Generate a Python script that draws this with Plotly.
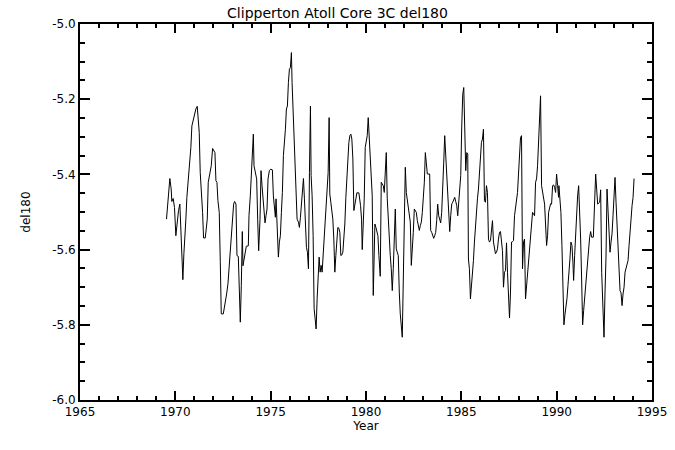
import plotly.graph_objects as go

years = [
1969.537,1969.589,1969.642,1969.712,1969.782,1969.817,1969.887,1969.957,1970.027,1970.097,
1970.167,1970.237,1970.290,1970.343,1970.395,1970.448,1970.500,1970.553,1970.605,1970.658,
1970.710,1970.763,1970.815,1970.868,1970.973,1971.078,1971.148,1971.201,1971.253,1971.306,
1971.376,1971.429,1971.481,1971.569,1971.621,1971.674,1971.726,1971.831,1971.884,1971.954,
1972.077,1972.129,1972.182,1972.234,1972.304,1972.357,1972.409,1972.515,1972.567,1972.637,
1972.690,1972.760,1972.830,1972.882,1972.952,1973.058,1973.110,1973.180,1973.233,1973.303,
1973.355,1973.408,1973.460,1973.513,1973.548,1973.618,1973.723,1973.828,1973.863,1973.933,
1973.986,1974.038,1974.091,1974.126,1974.196,1974.266,1974.319,1974.371,
1974.442,1974.494,1974.547,1974.599,1974.652,1974.704,1974.757,1974.809,1974.862,1974.932,
1975.002,1975.090,1975.142,1975.195,1975.247,1975.282,1975.335,1975.405,1975.457,1975.510,
1975.563,1975.615,1975.668,1975.720,1975.773,1975.825,1975.878,1975.930,1975.983,1976.035,
1976.088,1976.123,1976.176,1976.228,1976.281,1976.333,1976.386,1976.456,1976.508,1976.561,
1976.614,1976.666,1976.719,1976.771,1976.824,1976.876,1976.929,1976.981,1977.034,1977.086,
1977.121,1977.174,1977.227,1977.279,1977.332,1977.384,1977.437,1977.489,1977.542,1977.594,
1977.647,1977.699,1977.752,1977.804,1977.857,1977.910,1977.962,1978.015,1978.067,1978.102,
1978.155,1978.207,1978.260,1978.312,1978.365,1978.418,1978.470,1978.523,1978.575,1978.628,
1978.680,1978.733,1978.785,1978.838,1978.890,1978.943,1978.996,1979.048,1979.101,1979.153,
1979.206,1979.258,1979.311,1979.364,1979.416,1979.469,1979.521,1979.626,
1979.714,1979.767,1979.802,1979.854,1979.907,1979.959,1980.012,1980.064,1980.117,1980.169,
1980.222,1980.275,1980.327,1980.380,1980.415,1980.467,1980.520,1980.572,1980.625,1980.677,
1980.747,1980.800,1980.853,1980.905,1980.958,1981.010,1981.063,1981.115,1981.168,1981.220,
1981.273,1981.325,1981.378,1981.431,1981.483,1981.536,1981.588,1981.641,1981.693,1981.746,
1981.798,1981.903,1981.956,1982.008,1982.061,1982.114,1982.166,1982.219,1982.271,1982.324,
1982.376,1982.429,1982.481,1982.534,1982.587,1982.639,1982.692,1982.744,1982.797,1982.849,
1982.902,1982.954,1983.007,1983.060,1983.112,1983.165,1983.217,1983.340,1983.392,1983.445,
1983.497,1983.550,1983.603,1983.655,1983.708,1983.760,1983.813,1983.865,1983.918,1983.970,
1984.023,1984.075,1984.128,1984.180,1984.233,1984.286,1984.338,1984.391,1984.443,1984.496,
1984.548,1984.601,1984.653,1984.706,1984.759,1984.811,1984.864,
1984.969,1985.022,1985.074,1985.127,1985.179,1985.232,1985.284,1985.337,1985.372,1985.424,
1985.477,1985.530,1985.582,1985.635,1985.687,1985.740,1985.792,1985.845,1985.897,1985.950,
1986.002,1986.055,1986.107,1986.160,1986.213,1986.265,1986.318,1986.370,1986.423,1986.475,
1986.528,1986.580,1986.633,1986.686,1986.738,1986.791,1986.843,1986.896,1986.948,1987.001,
1987.053,1987.106,1987.158,1987.211,1987.263,1987.316,1987.369,1987.421,1987.474,1987.526,
1987.579,1987.631,1987.684,1987.736,1987.789,1987.842,1987.894,1987.947,1987.999,1988.052,
1988.104,1988.157,1988.209,1988.262,1988.314,1988.367,1988.420,1988.472,1988.525,1988.577,
1988.630,1988.682,1988.735,1988.787,1988.840,1988.893,1988.945,1988.998,1989.050,1989.103,
1989.155,1989.208,1989.260,1989.313,1989.366,1989.471,1989.523,1989.576,1989.628,1989.681,
1989.733,1989.786,1989.839,1989.891,1989.944,1989.996,1990.049,1990.101,
1990.118,1990.171,1990.223,1990.276,1990.329,1990.381,1990.434,1990.486,1990.539,1990.591,
1990.644,1990.696,1990.749,1990.802,1990.854,1990.889,1990.942,1990.994,1991.047,1991.099,
1991.152,1991.204,1991.257,1991.310,1991.362,1991.415,1991.467,1991.520,1991.572,1991.625,
1991.677,1991.730,1991.782,1991.835,1991.923,1992.045,1992.098,1992.150,1992.255,1992.308,
1992.361,1992.413,1992.483,1992.536,1992.588,1992.641,1992.693,1992.746,1992.798,1992.851,
1992.903,1992.956,1993.009,1993.061,1993.114,1993.166,1993.219,1993.271,1993.324,1993.376,
1993.429,1993.481,1993.534,1993.587,1993.639,1993.692,1993.744,1993.797,1993.849,1993.902,
1993.954,1994.007,1994.059,
]

del18o = [
-5.519,-5.492,-5.448,-5.411,-5.439,-5.472,-5.464,-5.488,-5.563,-5.523,
-5.496,-5.479,-5.563,-5.620,-5.680,-5.611,-5.572,-5.519,-5.461,-5.430,
-5.399,-5.359,-5.328,-5.271,-5.244,-5.226,-5.219,-5.253,-5.288,-5.395,
-5.448,-5.501,-5.569,-5.569,-5.545,-5.519,-5.421,-5.395,-5.377,-5.331,
-5.342,-5.417,-5.421,-5.470,-5.501,-5.631,-5.771,-5.771,-5.756,-5.740,
-5.718,-5.691,-5.643,-5.598,-5.532,-5.479,-5.472,-5.479,-5.616,-5.618,
-5.705,-5.793,-5.696,-5.552,-5.643,-5.625,-5.591,-5.590,-5.510,-5.457,
-5.408,-5.346,-5.293,-5.377,-5.395,-5.412,-5.519,-5.603,
-5.519,-5.390,-5.430,-5.465,-5.519,-5.529,-5.510,-5.492,-5.412,-5.390,
-5.386,-5.388,-5.457,-5.488,-5.514,-5.465,-5.536,-5.620,-5.580,-5.563,
-5.501,-5.448,-5.350,-5.324,-5.280,-5.226,-5.218,-5.156,-5.120,-5.116,
-5.076,-5.156,-5.226,-5.297,-5.377,-5.461,-5.519,-5.527,-5.541,-5.514,
-5.483,-5.457,-5.411,-5.465,-5.554,-5.594,-5.607,-5.651,-5.395,-5.218,
-5.403,-5.457,-5.563,-5.757,-5.784,-5.811,-5.731,-5.656,-5.620,-5.660,
-5.642,-5.660,-5.616,-5.589,-5.550,-5.474,-5.457,-5.395,-5.249,-5.452,
-5.474,-5.501,-5.519,-5.572,-5.660,-5.616,-5.572,-5.541,-5.543,-5.554,
-5.616,-5.614,-5.607,-5.572,-5.532,-5.461,-5.412,-5.342,-5.315,-5.297,
-5.293,-5.306,-5.359,-5.496,-5.474,-5.465,-5.449,-5.449,
-5.483,-5.519,-5.600,-5.541,-5.465,-5.328,-5.306,-5.297,-5.249,-5.297,
-5.346,-5.403,-5.457,-5.722,-5.625,-5.532,-5.541,-5.549,-5.563,-5.616,
-5.671,-5.421,-5.426,-5.430,-5.448,-5.395,-5.342,-5.465,-5.527,-5.598,
-5.616,-5.651,-5.709,-5.651,-5.572,-5.492,-5.598,-5.607,-5.616,-5.713,
-5.771,-5.833,-5.651,-5.519,-5.381,-5.448,-5.465,-5.492,-5.501,-5.527,
-5.642,-5.603,-5.554,-5.492,-5.496,-5.501,-5.523,-5.541,-5.549,-5.536,
-5.527,-5.501,-5.457,-5.421,-5.342,-5.372,-5.399,-5.399,-5.549,-5.554,
-5.563,-5.570,-5.563,-5.554,-5.523,-5.479,-5.510,-5.519,-5.529,-5.501,
-5.452,-5.370,-5.297,-5.350,-5.421,-5.457,-5.527,-5.552,-5.510,-5.479,
-5.474,-5.465,-5.461,-5.472,-5.483,-5.510,-5.474,
-5.403,-5.271,-5.187,-5.169,-5.271,-5.390,-5.342,-5.346,-5.625,-5.651,
-5.731,-5.700,-5.660,-5.629,-5.580,-5.536,-5.501,-5.465,-5.439,-5.386,
-5.346,-5.315,-5.306,-5.280,-5.470,-5.474,-5.430,-5.448,-5.572,-5.580,
-5.576,-5.549,-5.523,-5.580,-5.598,-5.611,-5.607,-5.598,-5.572,-5.554,
-5.552,-5.572,-5.603,-5.700,-5.660,-5.656,-5.582,-5.660,-5.709,-5.782,
-5.713,-5.580,-5.579,-5.576,-5.510,-5.488,-5.465,-5.448,-5.399,-5.350,
-5.302,-5.297,-5.651,-5.580,-5.572,-5.731,-5.696,-5.660,-5.634,-5.589,
-5.545,-5.519,-5.501,-5.505,-5.510,-5.421,-5.412,-5.377,-5.315,-5.253,
-5.191,-5.430,-5.448,-5.474,-5.479,-5.589,-5.563,-5.501,-5.483,-5.478,
-5.479,-5.430,-5.428,-5.434,-5.448,-5.399,-5.430,-5.461,
-5.430,-5.461,-5.501,-5.589,-5.678,-5.800,-5.773,-5.753,-5.731,-5.696,
-5.669,-5.625,-5.580,-5.589,-5.635,-5.682,-5.616,-5.549,-5.501,-5.457,
-5.430,-5.492,-5.572,-5.678,-5.800,-5.762,-5.726,-5.704,-5.660,-5.620,
-5.589,-5.567,-5.552,-5.567,-5.567,-5.399,-5.439,-5.479,-5.474,-5.441,
-5.660,-5.744,-5.833,-5.713,-5.620,-5.439,-5.501,-5.572,-5.607,-5.580,
-5.558,-5.510,-5.461,-5.408,-5.474,-5.541,-5.603,-5.660,-5.709,-5.715,
-5.749,-5.718,-5.700,-5.660,-5.651,-5.642,-5.629,-5.589,-5.536,-5.519,
-5.483,-5.461,-5.411,
]

x_ticks = [1965, 1970, 1975, 1980, 1985, 1990, 1995]
x_tick_labels = ["1965", "1970", "1975", "1980", "1985", "1990", "1995"]
y_ticks = [-6.0, -5.8, -5.6, -5.4, -5.2, -5.0]
y_tick_labels = ["-6.0", "-5.8", "-5.6", "-5.4", "-5.2", "-5.0"]

font = dict(family="DejaVu Sans", size=12, color="black")

fig = go.Figure()
fig.add_trace(go.Scatter(x=years, y=del18o, mode="lines",
                         line=dict(color="black", width=1), showlegend=False))

axis_common = dict(showgrid=False, zeroline=False, showline=True, linecolor="black",
                   linewidth=2, mirror="allticks", ticks="inside", tickcolor="black",
                   tickwidth=2, tickfont=font, automargin=False)

fig.update_layout(
    width=675, height=450,
    margin=dict(l=80, r=23, t=24, b=50),
    paper_bgcolor="white", plot_bgcolor="white",
    font=font,
    title=dict(text="Clipperton Atoll Core 3C del180", x=0.5, xanchor="center",
               y=0.972, yanchor="middle", font=dict(family="DejaVu Sans", size=14)),
    xaxis=dict(range=[1965, 1995], tickvals=x_ticks, ticktext=x_tick_labels,
               ticklen=9, title=dict(text="Year", font=font, standoff=2),
               minor=dict(dtick=1, ticklen=4, tickcolor="black", tickwidth=2, ticks="inside"),
               **axis_common),
    yaxis=dict(range=[-6.0, -5.0], tickvals=y_ticks, ticktext=y_tick_labels,
               ticklen=10, title=dict(text="del180", font=font, standoff=19),
               minor=dict(dtick=0.05, tick0=-6.0, ticklen=5, tickcolor="black", tickwidth=2, ticks="inside"),
               **axis_common),
)

fig.write_html("out.html", config={"displayModeBar": False},
               post_script="document.body.style.margin='0';")
